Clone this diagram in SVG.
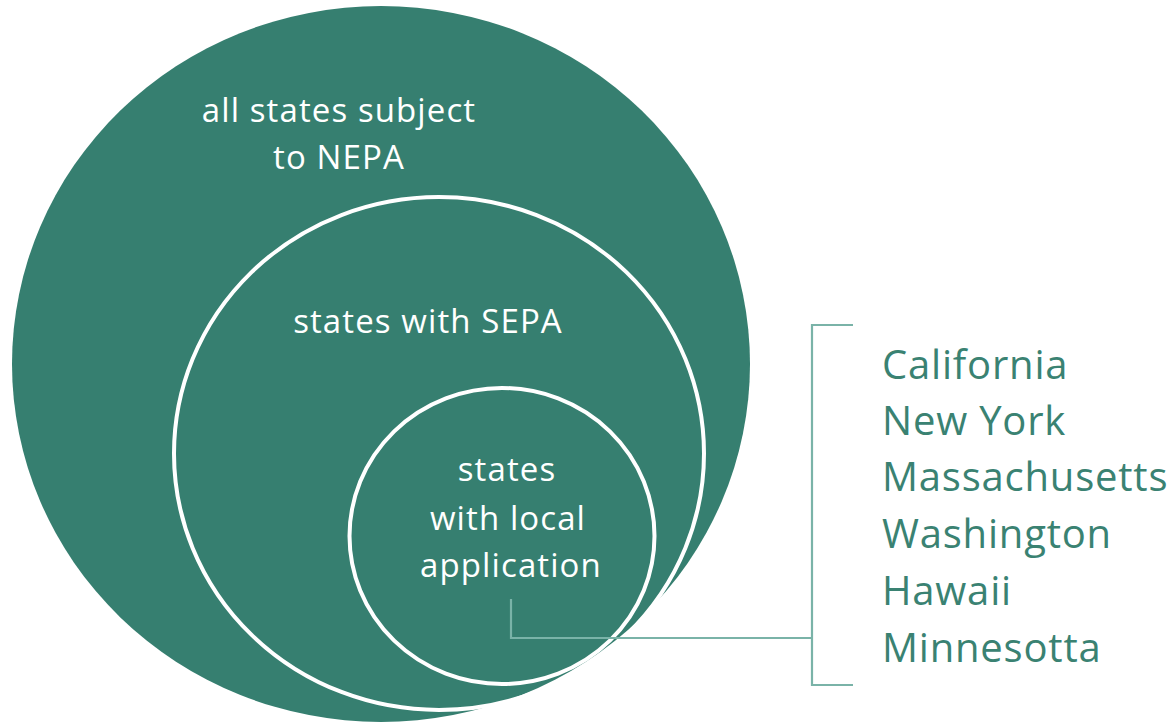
<svg xmlns="http://www.w3.org/2000/svg" width="1170" height="724" viewBox="0 0 1170 724">
<style>
.disc{fill:#367f70}
.ring{fill:none;stroke:#ffffff;stroke-width:4}
.in{font-family:"Open Sans","Liberation Sans",sans-serif;fill:#ffffff;text-anchor:middle;font-size:33px;letter-spacing:1.1px}
.st{font-family:"Open Sans","Liberation Sans",sans-serif;fill:#3a8272;font-size:40px;letter-spacing:0.8px}
.conn{fill:none;stroke:#7ab3a8;stroke-width:2.2}
</style>
<rect width="1170" height="724" fill="#ffffff"/>
<g id="nepa">
<ellipse class="disc" cx="381" cy="364" rx="369" ry="358"/>
<text class="in" x="339" y="122">all states subject</text>
<text class="in" x="339" y="169">to NEPA</text>
</g>
<g id="sepa">
<ellipse class="ring" cx="439" cy="453.5" rx="265" ry="256.5"/>
<text class="in" x="428" y="333">states with SEPA</text>
</g>
<g id="local">
<ellipse class="ring" cx="502" cy="536" rx="152.5" ry="148"/>
<text class="in" x="507" y="481">states</text>
<text class="in" x="508" y="530">with local</text>
<text class="in" x="511" y="577">application</text>
</g>
<g id="connectors">
<polyline class="conn" points="511,599 511,638 812,638"/>
<polyline class="conn" points="853,325 812,325 812,685 853,685"/>
</g>
<g id="list">
<text class="st" x="882" y="379">California</text>
<text class="st" x="882" y="435">New York</text>
<text class="st" x="882" y="491">Massachusetts</text>
<text class="st" x="882" y="548">Washington</text>
<text class="st" x="882" y="605">Hawaii</text>
<text class="st" x="882" y="662">Minnesotta</text>
</g>
</svg>
